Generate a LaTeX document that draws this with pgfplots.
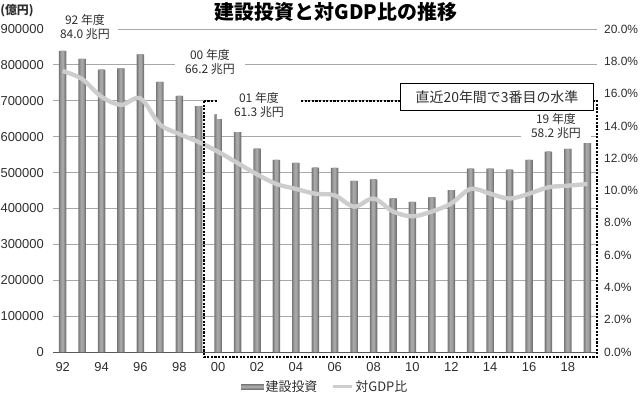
\documentclass[border=0pt]{standalone}
\usepackage{fontspec}
\setmainfont{Liberation Sans}
\newfontfamily\jp{Noto Sans CJK JP}
\usepackage{pgfplots}
\usepackage{pgfplotstable}
\pgfplotsset{compat=1.18}

\pgfplotstableread{
x inv pct
0 839000 17.4
1 817000 16.9
2 787000 15.8
3 790000 15.3
4 829000 15.7
5 753000 14.1
6 714000 13.5
7 685000 13.0
8 662000 12.4
9 613000 11.7
10 567000 11.0
11 535000 10.4
12 527000 10.1
13 514000 9.8
14 513000 9.7
15 477000 9.0
16 481000 9.5
17 428000 8.7
18 418000 8.4
19 431000 8.7
20 451000 9.2
21 511000 10.1
22 511000 9.8
23 508000 9.5
24 535000 9.8
25 558000 10.2
26 566000 10.3
27 582000 10.4
}\data

\definecolor{barmid}{HTML}{A6A6A6}
\definecolor{barin}{HTML}{8F8F8F}
\definecolor{baredge}{HTML}{767676}
\definecolor{linec}{HTML}{CDCDCD}
\definecolor{gridc}{HTML}{A8A8A8}
\definecolor{txt}{HTML}{2E2E2E}

\begin{document}
\begin{tikzpicture}
\begin{axis}[
  at={(0,0)}, anchor=south west,
  scale only axis, width=544bp, height=323bp,
  xmin=-0.5, xmax=27.5, ymin=0, ymax=900000,
  axis x line*=bottom, axis y line*=left,
  y axis line style={draw=none},
  x axis line style={draw=black!65, line width=0.8bp},
  major tick length=0pt,
  ytick={0,100000,200000,300000,400000,500000,600000,700000,800000,900000},
  scaled y ticks=false,
  /pgf/number format/assume math mode=true,
  yticklabel style={/pgf/number format/set thousands separator={}, /pgf/number format/fixed,
    font=\fontsize{13}{15}\selectfont, text=txt, anchor=east, inner sep=0pt, xshift=-9bp},
  xtick={0,2,...,26},
  xticklabels={92,94,96,98,00,02,04,06,08,10,12,14,16,18},
  xticklabel style={font=\fontsize{13}{15}\selectfont, text=txt, anchor=north, inner sep=0pt, yshift=-10bp},
  ymajorgrids, grid style={gridc, line width=0.8bp},
  clip=false,
  legend columns=2,
  legend style={at={(0.5,-0.108)}, anchor=center, draw=none, fill=none,
    font=\fontsize{13}{15}\selectfont\jp, text=txt,
    /tikz/every even column/.append style={column sep=12bp}},
  legend cell align=left,
]
\addplot[ybar, bar width=7.5bp, draw=none, fill=baredge,
  legend image code/.code={\fill[baredge] (0bp,-3bp) rectangle (23bp,3bp);
    \fill[barin] (0bp,-2bp) rectangle (23bp,2bp);\fill[barmid] (0bp,-1bp) rectangle (23bp,1bp);}]
  table[x=x,y=inv]{\data};
\addlegendentry{建設投資}
\addplot[ybar, bar width=5.3bp, draw=none, fill=barin, forget plot] table[x=x,y=inv]{\data};
\addplot[ybar, bar width=2.8bp, draw=none, fill=barmid, forget plot] table[x=x,y=inv]{\data};
\addlegendimage{legend image code/.code={\draw[linec,line width=3bp] (0bp,0bp) -- (19bp,0bp);}}
\addlegendentry{対GDP比}
\end{axis}

\begin{axis}[
  at={(0,0)}, anchor=south west,
  scale only axis, width=544bp, height=323bp,
  xmin=-0.5, xmax=27.5, ymin=0, ymax=20,
  axis x line=none, axis y line*=right,
  y axis line style={draw=none},
  major tick length=0pt,
  ytick={0,2,4,6,8,10,12,14,16,18,20},
  /pgf/number format/assume math mode=true,
  yticklabel={\pgfmathprintnumber[fixed,fixed zerofill,precision=1]{\tick}\%},
  yticklabel style={font=\fontsize{12}{14}\selectfont, text=txt, anchor=west, inner sep=0pt, xshift=7bp},
  clip=false,
]
\addplot[linec, line width=4.3bp, smooth, tension=0.55] table[x=x,y=pct]{\data};
\end{axis}

% dashed frame
\draw[black, line width=1.8bp, dash pattern=on 2.2bp off 1.4bp] (151bp,251bp) rectangle (544bp,-5bp);

% annotations
\tikzset{ann/.style={fill=white, align=center, text=txt, inner ysep=1bp,
  font=\fontsize{12}{14.3}\selectfont\jp}}
\node[ann, inner xsep=8bp] at (32bp,325bp) {92 年度\\84.0 兆円};
\node[ann, inner xsep=10bp] at (157bp,290bp) {00 年度\\66.2 兆円};
\node[ann, inner xsep=17bp] at (206bp,247bp) {01 年度\\61.3 兆円};
\node[ann, inner xsep=10bp] at (503bp,226bp) {19 年度\\58.2 兆円};
\node[draw=black, line width=0.8bp, fill=white, minimum width=193bp, minimum height=27bp, inner sep=0pt,
  font=\fontsize{14}{16}\selectfont\jp, text=txt] at (444bp,255bp) {直近20年間で3番目の水準};

% title and unit
\node[font=\fontsize{20}{22}\selectfont\jp\bfseries, text=black] at (283bp,340bp) {建設投資と対GDP比の推移};
\node[font=\fontsize{12}{14}\selectfont\jp\bfseries, text=txt] at (-36bp,341bp) {(億円)};

\pgfresetboundingbox
\path[use as bounding box] (-53bp,-42bp) rectangle (587bp,352bp);
\end{tikzpicture}
\end{document}
